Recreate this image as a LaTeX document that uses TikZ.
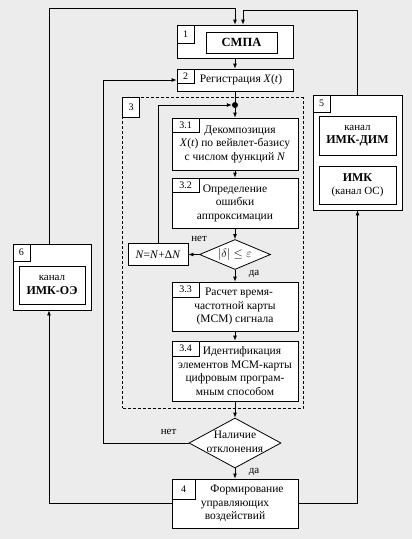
\documentclass[tikz,border=0pt]{standalone}
\usepackage{fontspec}
\setmainfont{Liberation Serif}
\usetikzlibrary{arrows.meta,shapes.geometric}
\definecolor{bgcol}{RGB}{236,236,236}
\begin{document}
\begin{tikzpicture}[x=1pt,y=-1pt,
    blk/.style={draw, fill=white, line width=0.8pt, align=center, inner sep=1pt, font=\fontsize{11.5}{13.5}\selectfont},
    num/.style={draw, fill=white, line width=0.8pt, anchor=north west, inner sep=0pt, font=\fontsize{10}{12}\selectfont},
    dia/.style={diamond, draw, fill=white, line width=0.8pt, inner sep=0pt, font=\fontsize{11.5}{14}\selectfont},
    arr/.style={-{Latex[length=5pt,width=4pt]}, line width=0.8pt},
    lbl/.style={inner sep=0pt, font=\fontsize{11}{13}\selectfont}]
    \fill[bgcol] (0,0) rectangle (412,539);
    \draw (212.75,252.75) node[draw, line width=0.8pt, dash pattern=on 3pt off 2pt, minimum width=180.5pt, minimum height=310.5pt] (b3) {};
    \draw (b3.north west) node[num, minimum width=17pt, minimum height=20pt] (n3) {3};
    \draw (235,41.5) node[blk, minimum width=116pt, minimum height=33pt] (b1) {};
    \draw (241.5,42.5) node[blk, minimum width=71pt, minimum height=21pt, font=\fontsize{12.5}{14}\selectfont\bfseries] (smpa) {СМПА};
    \draw (b1.north west) node[num, minimum width=17pt, minimum height=18pt] (n1) {1};
    \draw (235,80) node[blk, minimum width=116pt, minimum height=22pt] (b2) {\hspace*{12pt}Регистрация \textit{X}(\textit{t})};
    \draw (b2.north west) node[num, minimum width=17pt, minimum height=14pt] (n2) {2};
    \draw (235,105) node[circle, fill, inner sep=0pt, minimum size=6pt] (dot) {};
    \draw (235,144) node[blk, minimum width=126pt, minimum height=52pt] (b31) {\hspace*{10pt}Декомпозиция\\ \textit{X}(\textit{t}) по вейвлет-базису\\ с числом функций \textit{N}};
    \draw (b31.north west) node[num, minimum width=27pt, minimum height=14pt] (n31) {3.1};
    \draw (235,203) node[blk, minimum width=126pt, minimum height=50pt] (b32) {Определение\\ ошибки\\ аппроксимации};
    \draw (b32.north west) node[num, minimum width=27pt, minimum height=14pt] (n32) {3.2};
    \draw (235,254.5) node[dia, aspect=2.4, minimum width=71pt, minimum height=30pt, font=\fontsize{13}{15}\selectfont] (d1) {$\left|\delta\right|\leq\varepsilon$};
    \draw (158,254.5) node[blk, minimum width=60pt, minimum height=22pt] (nb) {\textit{N}=\textit{N}+Δ\textit{N}};
    \draw (235,306.5) node[blk, minimum width=126pt, minimum height=49pt] (b33) {\hspace*{8pt}Расчет время-\\ частотной карты\\ (МСМ) сигнала};
    \draw (b33.north west) node[num, minimum width=27pt, minimum height=15pt] (n33) {3.3};
    \draw (235,371) node[blk, minimum width=126pt, minimum height=60pt] (b34) {\hspace*{14pt}Идентификация\\ элементов МСМ-карты\\ цифровым програм-\\ мным способом};
    \draw (b34.north west) node[num, minimum width=27pt, minimum height=15pt] (n34) {3.4};
    \draw (235,443) node[dia, aspect=1.84, minimum width=92pt, minimum height=50pt] (d2) {\makebox[0pt]{\begin{tabular}{@{}c@{}}Наличие\\ отклонения\end{tabular}}};
    \draw (235,503.5) node[blk, minimum width=126pt, minimum height=49pt] (b4) {\hspace*{24pt}Формирование\\ управляющих\\ воздействий};
    \draw (b4.north west) node[num, minimum width=23pt, minimum height=20pt] (n4) {4};
    \draw (357.5,152.5) node[blk, minimum width=89pt, minimum height=115pt] (b5) {};
    \draw (357.5,135.5) node[blk, minimum width=77pt, minimum height=39pt] (b5a) {{\fontsize{11}{13}\selectfont канал}\\ {\fontsize{12}{14}\selectfont\bfseries ИМК-ДИМ}};
    \draw (357.5,185) node[blk, minimum width=77pt, minimum height=38pt] (b5b) {{\fontsize{12}{14}\selectfont\bfseries ИМК}\\ {\fontsize{11}{13}\selectfont (канал ОС)}};
    \draw (b5.north west) node[num, minimum width=17pt, minimum height=17pt] (n5) {5};
    \draw (52,277) node[blk, minimum width=78pt, minimum height=66pt] (b6) {};
    \draw (52,285) node[blk, minimum width=66pt, minimum height=38pt] (b6a) {{\fontsize{11}{13}\selectfont канал}\\ {\fontsize{12}{14}\selectfont\bfseries ИМК-ОЭ}};
    \draw (b6.north west) node[num, minimum width=17pt, minimum height=17pt] (n6) {6};
    \coordinate (lft) at (49,8);
    \coordinate (rgt) at (243,10);
    \coordinate (bk) at (103,80);
    \draw[arr] (b6.north -| lft) -- (lft) -| (b1.north);
    \draw[arr] (b5.north) |- (rgt) -- (rgt |- b1.north);
    \draw[arr] (b1) -- (b2);
    \draw[line width=0.8pt] (b2) -- (dot);
    \draw[arr] (dot) -- (b31);
    \draw[arr] (b31) -- (b32);
    \draw[arr] (b32) -- (d1);
    \draw[arr] (d1) -- (nb);
    \draw[arr] (nb.north) |- (dot);
    \draw[arr] (d1) -- (b33);
    \draw[arr] (b33) -- (b34);
    \draw[arr] (b34) -- (d2);
    \draw[arr] (d2) -- (b4);
    \draw[arr] (d2.west) -| (bk) -- (b2.west);
    \draw[arr] (b4.west) -| (b6.south -| lft);
    \draw[arr] (b4.east) -| (b5.south);
    \draw ([yshift=16pt]d1.west) node[lbl] (no1) {нет};
    \draw ([xshift=19pt,yshift=-4pt]d1.south) node[lbl] (yes1) {да};
    \draw ([xshift=-20pt,yshift=11pt]d2.west) node[lbl] (no2) {нет};
    \draw ([xshift=19pt,yshift=-4pt]d2.south) node[lbl] (yes2) {да};
\end{tikzpicture}
\end{document}
